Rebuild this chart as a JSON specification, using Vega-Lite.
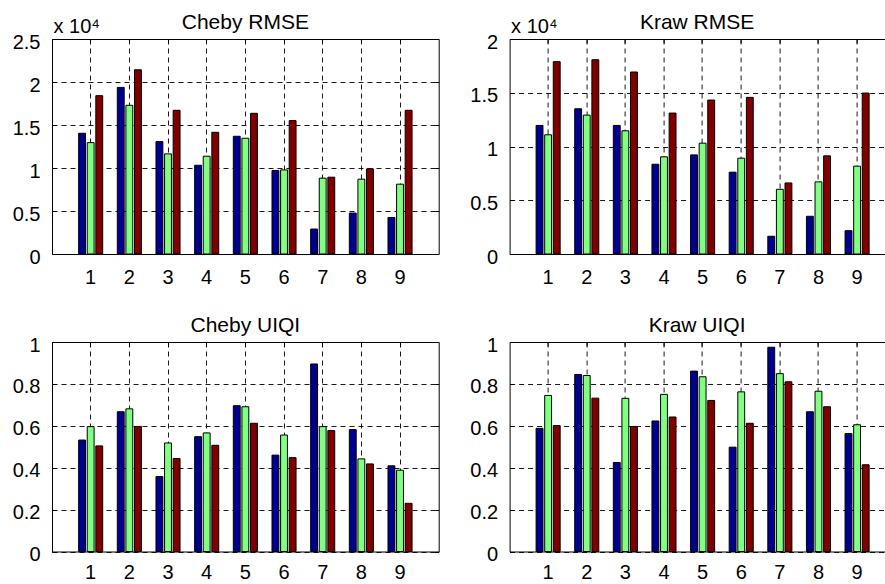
{
  "$schema": "https://vega.github.io/schema/vega-lite/v6.json",
  "padding": {"left": 12, "top": 11, "right": 0, "bottom": 0},
  "background": "white",
  "config": {
    "font": "Liberation Sans",
    "view": {"stroke": null},
    "axis": {
      "labelFont": "Liberation Sans",
      "labelFontSize": 20,
      "labelColor": "#000",
      "tickColor": "#000",
      "domainColor": "#000",
      "gridColor": "#000",
      "gridDash": [5, 4],
      "gridWidth": 0.9,
      "gridOpacity": 1,
      "tickSize": -4,
      "tickWidth": 1,
      "domainWidth": 1,
      "titleFont": "Liberation Sans",
      "titleFontSize": 20,
      "titleFontWeight": "normal",
      "titleColor": "#000"
    },
    "title": {"font": "Liberation Sans", "fontSize": 21, "fontWeight": "normal", "color": "#000", "frame": "group", "baseline": "alphabetic"}
  },
  "datasets": {
    "bars": [
      {"panel": "Cheby RMSE", "k": 1, "s": "A", "v": 14040}, {"panel": "Cheby RMSE", "k": 1, "s": "B", "v": 12950}, {"panel": "Cheby RMSE", "k": 1, "s": "C", "v": 18410},
      {"panel": "Cheby RMSE", "k": 2, "s": "A", "v": 19370}, {"panel": "Cheby RMSE", "k": 2, "s": "B", "v": 17290}, {"panel": "Cheby RMSE", "k": 2, "s": "C", "v": 21420},
      {"panel": "Cheby RMSE", "k": 3, "s": "A", "v": 13070}, {"panel": "Cheby RMSE", "k": 3, "s": "B", "v": 11640}, {"panel": "Cheby RMSE", "k": 3, "s": "C", "v": 16710},
      {"panel": "Cheby RMSE", "k": 4, "s": "A", "v": 10320}, {"panel": "Cheby RMSE", "k": 4, "s": "B", "v": 11370}, {"panel": "Cheby RMSE", "k": 4, "s": "C", "v": 14150},
      {"panel": "Cheby RMSE", "k": 5, "s": "A", "v": 13690}, {"panel": "Cheby RMSE", "k": 5, "s": "B", "v": 13460}, {"panel": "Cheby RMSE", "k": 5, "s": "C", "v": 16360},
      {"panel": "Cheby RMSE", "k": 6, "s": "A", "v": 9710}, {"panel": "Cheby RMSE", "k": 6, "s": "B", "v": 9780}, {"panel": "Cheby RMSE", "k": 6, "s": "C", "v": 15510},
      {"panel": "Cheby RMSE", "k": 7, "s": "A", "v": 2900}, {"panel": "Cheby RMSE", "k": 7, "s": "B", "v": 8820}, {"panel": "Cheby RMSE", "k": 7, "s": "C", "v": 8930},
      {"panel": "Cheby RMSE", "k": 8, "s": "A", "v": 4760}, {"panel": "Cheby RMSE", "k": 8, "s": "B", "v": 8700}, {"panel": "Cheby RMSE", "k": 8, "s": "C", "v": 9900},
      {"panel": "Cheby RMSE", "k": 9, "s": "A", "v": 4250}, {"panel": "Cheby RMSE", "k": 9, "s": "B", "v": 8120}, {"panel": "Cheby RMSE", "k": 9, "s": "C", "v": 16710},
      {"panel": "Kraw RMSE", "k": 1, "s": "A", "v": 11960}, {"panel": "Kraw RMSE", "k": 1, "s": "B", "v": 11090}, {"panel": "Kraw RMSE", "k": 1, "s": "C", "v": 17890},
      {"panel": "Kraw RMSE", "k": 2, "s": "A", "v": 13510}, {"panel": "Kraw RMSE", "k": 2, "s": "B", "v": 12920}, {"panel": "Kraw RMSE", "k": 2, "s": "C", "v": 18070},
      {"panel": "Kraw RMSE", "k": 3, "s": "A", "v": 11960}, {"panel": "Kraw RMSE", "k": 3, "s": "B", "v": 11460}, {"panel": "Kraw RMSE", "k": 3, "s": "C", "v": 16930},
      {"panel": "Kraw RMSE", "k": 4, "s": "A", "v": 8350}, {"panel": "Kraw RMSE", "k": 4, "s": "B", "v": 9040}, {"panel": "Kraw RMSE", "k": 4, "s": "C", "v": 13110},
      {"panel": "Kraw RMSE", "k": 5, "s": "A", "v": 9220}, {"panel": "Kraw RMSE", "k": 5, "s": "B", "v": 10310}, {"panel": "Kraw RMSE", "k": 5, "s": "C", "v": 14320},
      {"panel": "Kraw RMSE", "k": 6, "s": "A", "v": 7610}, {"panel": "Kraw RMSE", "k": 6, "s": "B", "v": 8910}, {"panel": "Kraw RMSE", "k": 6, "s": "C", "v": 14570},
      {"panel": "Kraw RMSE", "k": 7, "s": "A", "v": 1650}, {"panel": "Kraw RMSE", "k": 7, "s": "B", "v": 6020}, {"panel": "Kraw RMSE", "k": 7, "s": "C", "v": 6610},
      {"panel": "Kraw RMSE", "k": 8, "s": "A", "v": 3510}, {"panel": "Kraw RMSE", "k": 8, "s": "B", "v": 6710}, {"panel": "Kraw RMSE", "k": 8, "s": "C", "v": 9130},
      {"panel": "Kraw RMSE", "k": 9, "s": "A", "v": 2170}, {"panel": "Kraw RMSE", "k": 9, "s": "B", "v": 8170}, {"panel": "Kraw RMSE", "k": 9, "s": "C", "v": 14970},
      {"panel": "Cheby UIQI", "k": 1, "s": "A", "v": 0.532}, {"panel": "Cheby UIQI", "k": 1, "s": "B", "v": 0.596}, {"panel": "Cheby UIQI", "k": 1, "s": "C", "v": 0.504},
      {"panel": "Cheby UIQI", "k": 2, "s": "A", "v": 0.667}, {"panel": "Cheby UIQI", "k": 2, "s": "B", "v": 0.681}, {"panel": "Cheby UIQI", "k": 2, "s": "C", "v": 0.597},
      {"panel": "Cheby UIQI", "k": 3, "s": "A", "v": 0.358}, {"panel": "Cheby UIQI", "k": 3, "s": "B", "v": 0.518}, {"panel": "Cheby UIQI", "k": 3, "s": "C", "v": 0.444},
      {"panel": "Cheby UIQI", "k": 4, "s": "A", "v": 0.548}, {"panel": "Cheby UIQI", "k": 4, "s": "B", "v": 0.566}, {"panel": "Cheby UIQI", "k": 4, "s": "C", "v": 0.507},
      {"panel": "Cheby UIQI", "k": 5, "s": "A", "v": 0.696}, {"panel": "Cheby UIQI", "k": 5, "s": "B", "v": 0.691}, {"panel": "Cheby UIQI", "k": 5, "s": "C", "v": 0.612},
      {"panel": "Cheby UIQI", "k": 6, "s": "A", "v": 0.460}, {"panel": "Cheby UIQI", "k": 6, "s": "B", "v": 0.556}, {"panel": "Cheby UIQI", "k": 6, "s": "C", "v": 0.448},
      {"panel": "Cheby UIQI", "k": 7, "s": "A", "v": 0.895}, {"panel": "Cheby UIQI", "k": 7, "s": "B", "v": 0.596}, {"panel": "Cheby UIQI", "k": 7, "s": "C", "v": 0.577},
      {"panel": "Cheby UIQI", "k": 8, "s": "A", "v": 0.582}, {"panel": "Cheby UIQI", "k": 8, "s": "B", "v": 0.442}, {"panel": "Cheby UIQI", "k": 8, "s": "C", "v": 0.418},
      {"panel": "Cheby UIQI", "k": 9, "s": "A", "v": 0.409}, {"panel": "Cheby UIQI", "k": 9, "s": "B", "v": 0.388}, {"panel": "Cheby UIQI", "k": 9, "s": "C", "v": 0.230},
      {"panel": "Kraw UIQI", "k": 1, "s": "A", "v": 0.588}, {"panel": "Kraw UIQI", "k": 1, "s": "B", "v": 0.745}, {"panel": "Kraw UIQI", "k": 1, "s": "C", "v": 0.601},
      {"panel": "Kraw UIQI", "k": 2, "s": "A", "v": 0.845}, {"panel": "Kraw UIQI", "k": 2, "s": "B", "v": 0.840}, {"panel": "Kraw UIQI", "k": 2, "s": "C", "v": 0.732},
      {"panel": "Kraw UIQI", "k": 3, "s": "A", "v": 0.425}, {"panel": "Kraw UIQI", "k": 3, "s": "B", "v": 0.731}, {"panel": "Kraw UIQI", "k": 3, "s": "C", "v": 0.597},
      {"panel": "Kraw UIQI", "k": 4, "s": "A", "v": 0.623}, {"panel": "Kraw UIQI", "k": 4, "s": "B", "v": 0.750}, {"panel": "Kraw UIQI", "k": 4, "s": "C", "v": 0.642},
      {"panel": "Kraw UIQI", "k": 5, "s": "A", "v": 0.861}, {"panel": "Kraw UIQI", "k": 5, "s": "B", "v": 0.834}, {"panel": "Kraw UIQI", "k": 5, "s": "C", "v": 0.721},
      {"panel": "Kraw UIQI", "k": 6, "s": "A", "v": 0.498}, {"panel": "Kraw UIQI", "k": 6, "s": "B", "v": 0.762}, {"panel": "Kraw UIQI", "k": 6, "s": "C", "v": 0.612},
      {"panel": "Kraw UIQI", "k": 7, "s": "A", "v": 0.975}, {"panel": "Kraw UIQI", "k": 7, "s": "B", "v": 0.849}, {"panel": "Kraw UIQI", "k": 7, "s": "C", "v": 0.810},
      {"panel": "Kraw UIQI", "k": 8, "s": "A", "v": 0.667}, {"panel": "Kraw UIQI", "k": 8, "s": "B", "v": 0.765}, {"panel": "Kraw UIQI", "k": 8, "s": "C", "v": 0.691},
      {"panel": "Kraw UIQI", "k": 9, "s": "A", "v": 0.563}, {"panel": "Kraw UIQI", "k": 9, "s": "B", "v": 0.605}, {"panel": "Kraw UIQI", "k": 9, "s": "C", "v": 0.414}
    ]
  },
  "data": {"name": "bars"},
  "columns": 2,
  "bounds": "flush",
  "spacing": {"row": 88, "column": 70.6},
  "concat": [
    {
      "width": 386.7, "height": 215,
      "title": {"text": "Cheby RMSE", "offset": -16},
      "transform": [{"filter": "datum.panel === 'Cheby RMSE'"}],
      "layer": [
        {
          "mark": {"type": "bar", "stroke": "#000", "strokeWidth": 1},
          "encoding": {
            "x": {"field": "k", "type": "ordinal", "scale": {"paddingInner": 0, "paddingOuter": 0.5}, "axis": {"orient": "bottom", "title": null, "labelAngle": 0, "grid": true, "bandPosition": 0.5, "labelPadding": 33, "labelBaseline": "alphabetic"}},
            "xOffset": {"field": "s", "type": "nominal", "scale": {"paddingInner": 0.2, "paddingOuter": 0.85}},
            "y": {"field": "v", "type": "quantitative", "scale": {"domain": [0, 25000], "nice": false}, "axis": {"orient": "left", "title": "x 10⁴", "titleAngle": 0, "titleAlign": "left", "titleBaseline": "alphabetic", "titleX": 1, "titleY": -6.5, "values": [0, 5000, 10000, 15000, 20000, 25000], "labelExpr": "datum.value / 10000", "grid": true, "labelPadding": 16, "labelBaseline": "alphabetic", "labelOffset": 9}},
            "color": {"field": "s", "type": "nominal", "scale": {"domain": ["A", "B", "C"], "range": ["#00008F", "#80FF80", "#800000"]}, "legend": null}
          }
        },
        {
          "mark": {"type": "bar", "opacity": 0},
          "encoding": {
            "x": {"field": "k", "type": "ordinal", "axis": {"orient": "top", "title": null, "labels": false, "grid": false, "bandPosition": 0.5}},
            "xOffset": {"field": "s", "type": "nominal"},
            "y": {"field": "v", "type": "quantitative", "axis": {"orient": "right", "title": null, "labels": false, "grid": false, "values": [0, 5000, 10000, 15000, 20000, 25000]}}
          }
        }
      ],
      "resolve": {"axis": {"x": "independent", "y": "independent"}}
    },
    {
      "width": 375, "height": 215,
      "title": {"text": "Kraw RMSE", "offset": -16},
      "transform": [{"filter": "datum.panel === 'Kraw RMSE'"}],
      "layer": [
        {
          "mark": {"type": "bar", "stroke": "#000", "strokeWidth": 1},
          "encoding": {
            "x": {"field": "k", "type": "ordinal", "scale": {"paddingInner": 0, "paddingOuter": 0.355, "align": 0.7}, "axis": {"orient": "bottom", "title": null, "labelAngle": 0, "grid": true, "bandPosition": 0.5, "labelPadding": 33, "labelBaseline": "alphabetic"}},
            "xOffset": {"field": "s", "type": "nominal", "scale": {"paddingInner": 0.2, "paddingOuter": 0.85}},
            "y": {"field": "v", "type": "quantitative", "scale": {"domain": [0, 20000], "nice": false}, "axis": {"orient": "left", "title": "x 10⁴", "titleAngle": 0, "titleAlign": "left", "titleBaseline": "alphabetic", "titleX": 1, "titleY": -6.5, "values": [0, 5000, 10000, 15000, 20000], "labelExpr": "datum.value / 10000", "grid": true, "labelPadding": 16, "labelBaseline": "alphabetic", "labelOffset": 9}},
            "color": {"field": "s", "type": "nominal", "scale": {"domain": ["A", "B", "C"], "range": ["#00008F", "#80FF80", "#800000"]}, "legend": null}
          }
        },
        {
          "mark": {"type": "bar", "opacity": 0},
          "encoding": {
            "x": {"field": "k", "type": "ordinal", "axis": {"orient": "top", "title": null, "labels": false, "grid": false, "bandPosition": 0.5}},
            "xOffset": {"field": "s", "type": "nominal"},
            "y": {"field": "v", "type": "quantitative", "axis": null}
          }
        }
      ],
      "resolve": {"axis": {"x": "independent", "y": "independent"}}
    },
    {
      "width": 386.7, "height": 209.5,
      "title": {"text": "Cheby UIQI", "offset": -0.5},
      "transform": [{"filter": "datum.panel === 'Cheby UIQI'"}],
      "layer": [
        {
          "mark": {"type": "bar", "stroke": "#000", "strokeWidth": 1},
          "encoding": {
            "x": {"field": "k", "type": "ordinal", "scale": {"paddingInner": 0, "paddingOuter": 0.5}, "axis": {"orient": "bottom", "title": null, "labelAngle": 0, "grid": true, "bandPosition": 0.5, "labelPadding": 31, "labelBaseline": "alphabetic"}},
            "xOffset": {"field": "s", "type": "nominal", "scale": {"paddingInner": 0.2, "paddingOuter": 0.85}},
            "y": {"field": "v", "type": "quantitative", "scale": {"domain": [0, 1], "nice": false}, "axis": {"orient": "left", "title": null, "values": [0, 0.2, 0.4, 0.6, 0.8, 1], "labelExpr": "datum.value + ''", "grid": true, "labelPadding": 16, "labelBaseline": "alphabetic", "labelOffset": 9}},
            "color": {"field": "s", "type": "nominal", "scale": {"domain": ["A", "B", "C"], "range": ["#00008F", "#80FF80", "#800000"]}, "legend": null}
          }
        },
        {
          "mark": {"type": "bar", "opacity": 0},
          "encoding": {
            "x": {"field": "k", "type": "ordinal", "axis": {"orient": "top", "title": null, "labels": false, "grid": false, "bandPosition": 0.5}},
            "xOffset": {"field": "s", "type": "nominal"},
            "y": {"field": "v", "type": "quantitative", "axis": {"orient": "right", "title": null, "labels": false, "grid": false, "values": [0, 0.2, 0.4, 0.6, 0.8, 1]}}
          }
        }
      ],
      "resolve": {"axis": {"x": "independent", "y": "independent"}}
    },
    {
      "width": 375, "height": 209.5,
      "title": {"text": "Kraw UIQI", "offset": -0.5},
      "transform": [{"filter": "datum.panel === 'Kraw UIQI'"}],
      "layer": [
        {
          "mark": {"type": "bar", "stroke": "#000", "strokeWidth": 1},
          "encoding": {
            "x": {"field": "k", "type": "ordinal", "scale": {"paddingInner": 0, "paddingOuter": 0.355, "align": 0.7}, "axis": {"orient": "bottom", "title": null, "labelAngle": 0, "grid": true, "bandPosition": 0.5, "labelPadding": 31, "labelBaseline": "alphabetic"}},
            "xOffset": {"field": "s", "type": "nominal", "scale": {"paddingInner": 0.2, "paddingOuter": 0.85}},
            "y": {"field": "v", "type": "quantitative", "scale": {"domain": [0, 1], "nice": false}, "axis": {"orient": "left", "title": null, "values": [0, 0.2, 0.4, 0.6, 0.8, 1], "labelExpr": "datum.value + ''", "grid": true, "labelPadding": 16, "labelBaseline": "alphabetic", "labelOffset": 9}},
            "color": {"field": "s", "type": "nominal", "scale": {"domain": ["A", "B", "C"], "range": ["#00008F", "#80FF80", "#800000"]}, "legend": null}
          }
        },
        {
          "mark": {"type": "bar", "opacity": 0},
          "encoding": {
            "x": {"field": "k", "type": "ordinal", "axis": {"orient": "top", "title": null, "labels": false, "grid": false, "bandPosition": 0.5}},
            "xOffset": {"field": "s", "type": "nominal"},
            "y": {"field": "v", "type": "quantitative", "axis": null}
          }
        }
      ],
      "resolve": {"axis": {"x": "independent", "y": "independent"}}
    }
  ]
}
